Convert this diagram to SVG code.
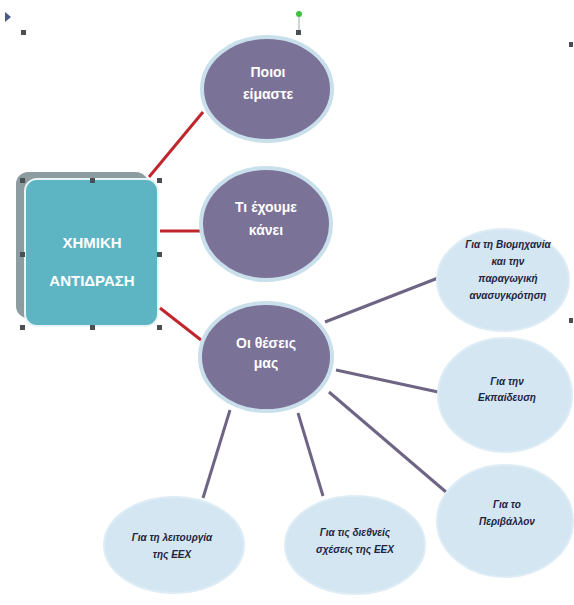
<svg xmlns="http://www.w3.org/2000/svg" width="574" height="605" viewBox="0 0 574 605">
<style>
.bg{fill:#ffffff}
.red{stroke:#c0272d;stroke-width:3;fill:none}
.gry{stroke:#6e6584;stroke-width:3;fill:none}
.pur{fill:#7b7298;stroke:#c9e0ec;stroke-width:4}
.lb{fill:#d3e6f1;stroke:#deedf5;stroke-width:2}
.tw{font-family:"Liberation Sans",Arial,sans-serif;font-weight:bold;fill:#ffffff;text-anchor:middle}
.tk{font-family:"Liberation Sans",Arial,sans-serif;font-weight:bold;font-style:italic;fill:#1f2440;text-anchor:middle;font-size:10px}
.h{fill:#4a4f55}
</style>
<rect class="bg" x="0" y="0" width="574" height="605"/>
<g id="selection">
<path d="M5,12 L11,17 L5,22 Z" fill="#4a5a8a"/>
<rect class="h" x="21" y="30" width="5" height="5"/>
<line x1="299" y1="15" x2="299" y2="31" stroke="#9aa" stroke-width="1"/>
<circle cx="299" cy="14" r="3" fill="#3fc03f"/>
<rect class="h" x="296" y="30" width="5" height="5"/>
<rect class="h" x="569" y="42" width="4" height="5"/>
<rect class="h" x="569" y="318" width="4" height="5"/>
</g>
<g id="connectors">
<line class="red" x1="149" y1="177" x2="203" y2="112"/>
<line class="red" x1="160" y1="231" x2="201" y2="231"/>
<line class="red" x1="160" y1="308" x2="201" y2="340"/>
<line class="gry" x1="325" y1="322" x2="438" y2="278"/>
<line class="gry" x1="336" y1="370" x2="438" y2="392"/>
<line class="gry" x1="329" y1="392" x2="446" y2="492"/>
<line class="gry" x1="230" y1="410" x2="203" y2="498"/>
<line class="gry" x1="298" y1="413" x2="323" y2="496"/>
</g>
<g id="main">
<rect x="16" y="172" width="132" height="146" rx="12" fill="#8c9ca0"/>
<rect x="25" y="179" width="133" height="147" rx="12" fill="#5db5c3" stroke="#e8f4f6" stroke-width="2"/>
<text class="tw" x="92" y="248" font-size="15">ΧΗΜΙΚΗ</text>
<text class="tw" x="92" y="286" font-size="15">ΑΝΤΙΔΡΑΣΗ</text>
<rect class="h" x="20" y="178" width="5" height="5"/>
<rect class="h" x="90" y="178" width="5" height="5"/>
<rect class="h" x="157" y="178" width="5" height="5"/>
<rect class="h" x="20" y="252" width="5" height="5"/>
<rect class="h" x="157" y="252" width="5" height="5"/>
<rect class="h" x="20" y="325" width="5" height="5"/>
<rect class="h" x="90" y="325" width="5" height="5"/>
<rect class="h" x="157" y="325" width="5" height="5"/>
</g>
<g id="poioi">
<ellipse class="pur" cx="267" cy="89" rx="65" ry="52"/>
<text class="tw" x="268" y="77" font-size="14">Ποιοι</text>
<text class="tw" x="268" y="99" font-size="14">είμαστε</text>
</g>
<g id="ti">
<ellipse class="pur" cx="266" cy="224" rx="65" ry="56"/>
<text class="tw" x="266" y="212" font-size="14">Τι έχουμε</text>
<text class="tw" x="266" y="235" font-size="14">κάνει</text>
</g>
<g id="theseis">
<ellipse class="pur" cx="266" cy="357" rx="66" ry="54"/>
<text class="tw" x="266" y="348" font-size="14">Οι θέσεις</text>
<text class="tw" x="266" y="368" font-size="14">μας</text>
</g>
<g id="viomixania">
<ellipse class="lb" cx="503" cy="280" rx="66" ry="51"/>
<text class="tk" x="508" y="248">Για τη Βιομηχανία</text>
<text class="tk" x="508" y="265">και την</text>
<text class="tk" x="508" y="282">παραγωγική</text>
<text class="tk" x="508" y="299">ανασυγκρότηση</text>
</g>
<g id="ekpaideusi">
<ellipse class="lb" cx="505" cy="395" rx="67" ry="57"/>
<text class="tk" x="507" y="385">Για την</text>
<text class="tk" x="507" y="401">Εκπαίδευση</text>
</g>
<g id="perivallon">
<ellipse class="lb" cx="505" cy="521" rx="68" ry="56"/>
<text class="tk" x="507" y="508">Για το</text>
<text class="tk" x="507" y="525">Περιβάλλον</text>
</g>
<g id="leitourgia">
<ellipse class="lb" cx="174" cy="545" rx="70" ry="48"/>
<text class="tk" x="172" y="541">Για τη λειτουργία</text>
<text class="tk" x="172" y="558">της ΕΕΧ</text>
</g>
<g id="diethneis">
<ellipse class="lb" cx="355" cy="545" rx="70" ry="49"/>
<text class="tk" x="355" y="536">Για τις διεθνείς</text>
<text class="tk" x="355" y="553">σχέσεις της ΕΕΧ</text>
</g>
</svg>
